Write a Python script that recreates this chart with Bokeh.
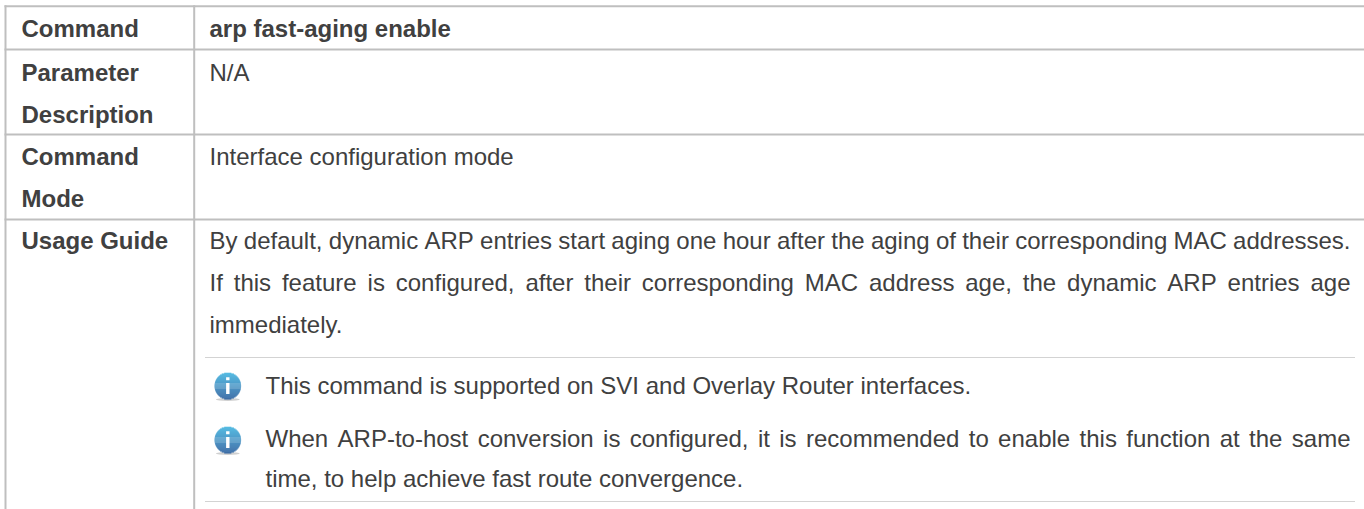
from bokeh.plotting import figure
from bokeh.embed import file_html
from bokeh.resources import INLINE
from bokeh.models import Range1d
from bokeh.core.properties import value

WIDTH, HEIGHT = 1364, 509
FONT = "Liberation Sans"
SIZE = 24
TEXT = "#404040"
RULE = "#bfbfbf"
DOT = "#a6a6a6"
BASELINE_SHIFT = -8

left_labels = [("Command", 36), ("Parameter", 80), ("Description", 122),
               ("Command", 164), ("Mode", 206), ("Usage Guide", 248)]
bold_lines = [("arp fast-aging enable", 36)]
plain_lines = [("N/A", 80), ("Interface configuration mode", 164), ("immediately.", 332)]
note_lines = [("This command is supported on SVI and Overlay Router interfaces.", 392.5),
              ("time, to help achieve fast route convergence.", 486)]
justified_lines = [
    ("By default, dynamic ARP entries start aging one hour after the aging of their corresponding MAC addresses.", 248, 209),
    ("If this feature is configured, after their corresponding MAC address age, the dynamic ARP entries age", 290, 209),
    ("When ARP-to-host conversion is configured, it is recommended to enable this function at the same", 446, 265),
]
h_rules = [5.7, 49, 134, 219]
v_rules = [5, 193.7]
dot_rules = [357, 501]
icon_rows = [385.5, 439.5]

# Helvetica / Liberation Sans advance widths per 1000 em
W = dict(zip("abcdefghijklmnopqrstuvwxyz",
             [556,556,500,556,556,278,556,556,222,222,500,222,833,556,556,556,556,333,500,278,556,500,722,500,500,500]))
W.update(zip("ABCDEFGHIJKLMNOPQRSTUVWXYZ",
             [667,667,722,722,667,611,778,722,278,500,667,556,833,722,778,667,778,722,667,611,722,667,944,667,667,611]))
W.update({",": 278, ".": 278, "-": 333, " ": 278})

def width(s):
    return sum(W.get(c, 556) for c in s) * SIZE / 1000

RIGHT = 1350

p = figure(width=WIDTH, height=HEIGHT, output_backend="svg", toolbar_location=None,
           x_range=Range1d(0, WIDTH), y_range=Range1d(HEIGHT, 0),
           min_border=0, outline_line_color=None)
p.xaxis.visible = False
p.yaxis.visible = False
p.grid.visible = False

p.segment(x0=[4] * len(h_rules), x1=[WIDTH] * len(h_rules), y0=h_rules, y1=h_rules, line_color=RULE, line_width=2)
p.segment(x0=v_rules, x1=v_rules, y0=[4.7, 4.7], y1=[HEIGHT, HEIGHT], line_color=RULE, line_width=2)
p.segment(x0=[205, 205], x1=[1354, 1354], y0=dot_rules, y1=dot_rules,
          line_color=DOT, line_width=1, line_dash="1 1")

def put(xs, ys, ts, style="normal"):
    p.text(x=xs, y=[y + BASELINE_SHIFT for y in ys], text=ts, text_font=value(FONT), text_font_size=f"{SIZE}px",
           text_font_style=style, text_color=TEXT, text_baseline="alphabetic", text_align="left")

put([21] * len(left_labels), [l[1] for l in left_labels], [l[0] for l in left_labels], "bold")
put([209] * len(bold_lines), [l[1] for l in bold_lines], [l[0] for l in bold_lines], "bold")
put([209] * len(plain_lines), [l[1] for l in plain_lines], [l[0] for l in plain_lines])
put([265] * len(note_lines), [l[1] for l in note_lines], [l[0] for l in note_lines])

for line, y, x0 in justified_lines:
    words = line.split(" ")
    gap = (RIGHT - x0 - sum(width(w) for w in words)) / (len(words) - 1)
    xs, x = [], x0
    for w in words:
        xs.append(x)
        x += width(w) + gap
    put(xs, [y] * len(words), words)

# info icons: stacked slices give the vertical gradient
R = 13.3
top, bottom = (0x3f, 0xb4, 0xe0), (0x2a, 0x5f, 0x9e)
cx = 227.3
for cy in icon_rows:
    p.ellipse(x=[cx], y=[cy + 13.5], width=24, height=3, color="#d0d0d0", line_color=None)
    n = 27
    for i in range(n):
        t = (i + 0.5) / n
        dy = (t - 0.5) * 2 * R
        half = max(R ** 2 - dy ** 2, 0) ** 0.5
        c = tuple(int(a + (b - a) * t) for a, b in zip(top, bottom))
        p.hbar(y=[cy + dy], left=[cx - half], right=[cx + half], height=2 * R / n + 0.15,
               color="#%02x%02x%02x" % c, line_color=None)
    p.rect(x=[cx], y=[cy + 2.5], width=3.4, height=11, color="white", line_color=None)
    p.rect(x=[cx], y=[cy - 7.3], width=3.4, height=3, color="white", line_color=None)

open("out.html", "w").write(file_html(p, INLINE))
